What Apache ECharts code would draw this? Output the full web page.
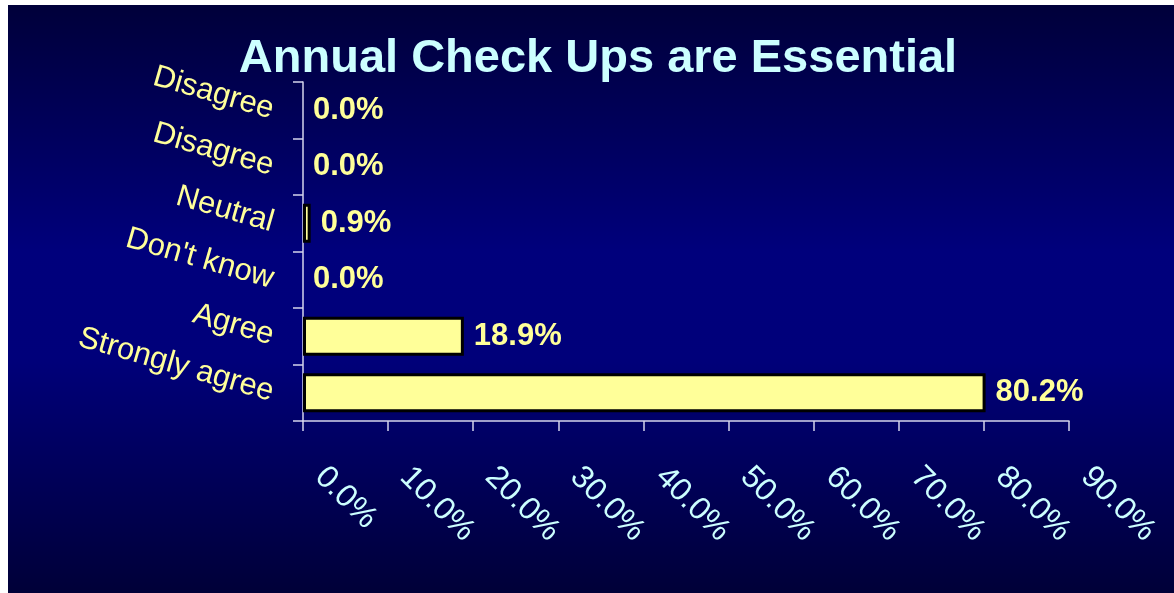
<!DOCTYPE html>
<html>
<head>
<meta charset="utf-8">
<script src="https://cdn.jsdelivr.net/npm/echarts@6/dist/echarts.min.js"></script>
<style>
  html, body { margin: 0; padding: 0; background: #ffffff; }
  #chart { position: absolute; left: 8px; top: 5px; width: 1166px; height: 588px; }
</style>
</head>
<body>
<div id="chart"></div>
<script>
// bottom to top, as the category axis draws them
const categories = ["Strongly agree", "Agree", "Don't know", "Neutral", "Disagree", "Disagree"];
const percents = [80.2, 18.9, 0.0, 0.9, 0.0, 0.0];
const xMin = 0;
const xMax = 90;
const xStep = 10;

const font = "'Liberation Sans', Arial, sans-serif";
const chart = echarts.init(document.getElementById("chart"));

chart.setOption({
  backgroundColor: new echarts.graphic.LinearGradient(0, 0, 0, 1, [
    { offset: 0, color: "#00003a" },
    { offset: 0.42, color: "#00007c" },
    { offset: 0.6, color: "#00007a" },
    { offset: 1, color: "#000038" },
  ]),
  title: {
    text: "Annual Check Ups are Essential",
    left: 590,
    textAlign: "center",
    top: 31,
    padding: 0,
    textStyle: { color: "#ccffff", fontSize: 47, fontWeight: "bold", fontFamily: font },
  },
  grid: { left: 295, right: 105, top: 77, bottom: 172, containLabel: false },
  xAxis: {
    type: "value",
    min: xMin,
    max: xMax,
    interval: xStep,
    axisLine: { show: true, lineStyle: { color: "#d4d4ec", width: 1.5 } },
    axisTick: { show: true, length: 10, lineStyle: { color: "#d4d4ec", width: 1.5 } },
    splitLine: { show: false },
    axisLabel: {
      rotate: -45,
      margin: 34,
      padding: [0, 0, 0, 24],
      color: "#ccffff",
      fontSize: 32,
      fontFamily: font,
      formatter: (v) => v.toFixed(1) + "%",
    },
  },
  yAxis: {
    type: "category",
    data: categories,
    axisLine: { show: true, lineStyle: { color: "#d4d4ec", width: 1.5 } },
    axisTick: { show: true, length: 10, lineStyle: { color: "#d4d4ec", width: 1.5 } },
    axisLabel: {
      rotate: -16,
      margin: 30,
      color: "#ffff99",
      fontSize: 31,
      fontFamily: font,
    },
  },
  series: [
    {
      type: "bar",
      data: percents.map((v) => (v === 0 ? { value: v, itemStyle: { borderWidth: 0 } } : v)),
      barCategoryGap: "31%",
      itemStyle: { color: "#ffff99", borderColor: "#000000", borderWidth: 3 },
      label: {
        show: true,
        position: "right",
        distance: 10,
        color: "#ffff99",
        fontSize: 31,
        fontWeight: "bold",
        fontFamily: font,
        formatter: (p) => p.value.toFixed(1) + "%",
      },
    },
  ],
});
</script>
</body>
</html>
